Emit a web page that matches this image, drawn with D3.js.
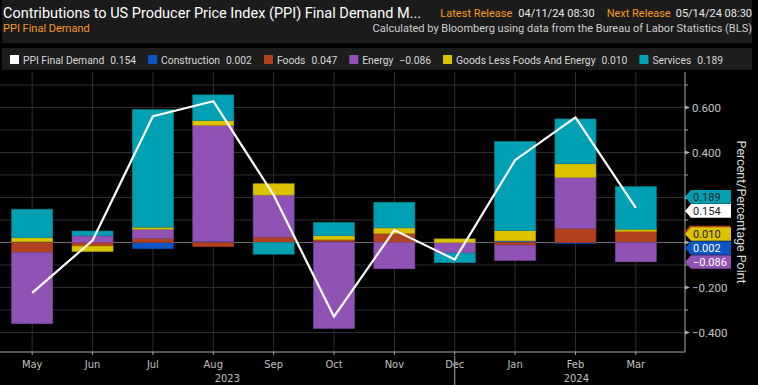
<!DOCTYPE html>
<html>
<head>
<meta charset="utf-8">
<script src="https://cdn.jsdelivr.net/npm/d3@7"></script>
<style>
  body { margin: 0; background: #000; }
  svg { display: block; font-family: Roboto, "Liberation Sans", sans-serif; }
</style>
</head>
<body>
<div id="chart"></div>
<script>
var width = 758, height = 385;

// values (contributions, pct pts)
var months = ["May", "Jun", "Jul", "Aug", "Sep", "Oct", "Nov", "Dec", "Jan", "Feb", "Mar"];
var ppiFinal     = [-0.224, 0.009, 0.561, 0.628, 0.211, -0.330, 0.055, -0.076, 0.366, 0.556, 0.154];
var construction = [0.003, 0.000, -0.028, 0.004, 0.000, 0.003, 0.000, 0.000, 0.007, -0.004, 0.002];
var foods        = [-0.044, -0.016, 0.018, -0.019, 0.024, 0.009, 0.040, 0.000, -0.012, 0.062, 0.047];
var energy       = [-0.317, 0.030, 0.041, 0.517, 0.187, -0.382, -0.117, -0.047, -0.068, 0.227, -0.086];
var goodsLess    = [0.018, -0.024, 0.009, 0.021, 0.050, 0.018, 0.025, 0.016, 0.046, 0.061, 0.010];
var services     = [0.127, 0.021, 0.523, 0.114, -0.052, 0.059, 0.114, -0.043, 0.396, 0.199, 0.189];
var years = [{label: "2023", from: "May", to: "Dec"}, {label: "2024", from: "Dec", to: null}];
var yTicks = [-0.4, -0.2, 0, 0.2, 0.4, 0.6];
var yMinor = [-0.3, -0.1, 0.1, 0.3, 0.5, 0.7];

var keys = ["construction", "foods", "energy", "goods", "services"];
var names = {ppi: "PPI Final Demand", construction: "Construction", foods: "Foods",
  energy: "Energy", goods: "Goods Less Foods And Energy", services: "Services"};
var colors = {ppi: "#ffffff", construction: "#0b55c6", foods: "#b3401f",
  energy: "#9152b6", goods: "#dcc300", services: "#00a0b4"};
var seriesVals = {ppi: ppiFinal, construction: construction, foods: foods,
  energy: energy, goods: goodsLess, services: services};

var rows = months.map(function (m, i) {
  var r = {month: m};
  keys.forEach(function (k) { r[k] = seriesVals[k][i]; });
  return r;
});

var svg = d3.select("#chart").append("svg")
  .attr("width", width)
  .attr("height", height);

svg.append("rect").attr("width", width).attr("height", height).attr("fill", "#000");

// header
svg.append("rect").attr("x", 2).attr("y", 0).attr("width", 750).attr("height", 43).attr("fill", "#1b1b1b");
svg.append("rect").attr("x", 2).attr("y", 48).attr("width", 750).attr("height", 22).attr("fill", "#1d1d1d");

svg.append("text").attr("x", 3).attr("y", 18)
  .attr("fill", "#fff").style("font-size", "14.5px")
  .text("Contributions to US Producer Price Index (PPI) Final Demand M...");

// release info, laid out right to left
var hx = 752;
[["05/14/24 08:30", "#e8e8e8", 5], ["Next Release", "#f39a1e", 12], ["04/11/24 08:30", "#e8e8e8", 6], ["Latest Release", "#f39a1e", 0]]
  .forEach(function (p) {
    var t = svg.append("text").attr("x", hx).attr("y", 17).attr("text-anchor", "end")
      .attr("fill", p[1]).style("font-size", "11px").text(p[0]);
    hx -= t.node().getComputedTextLength() + p[2];
  });

svg.append("text").attr("x", 3).attr("y", 32)
  .attr("fill", "#f39a1e").style("font-size", "11px").text("PPI Final Demand");
svg.append("text").attr("x", 752).attr("y", 32).attr("text-anchor", "end")
  .attr("fill", "#cfcfcf").style("font-size", "11px")
  .text("Calculated by Bloomberg using data from the Bureau of Labor Statistics (BLS)");

// legend
var lx = 10;
["ppi"].concat(keys).forEach(function (k) {
  var last = seriesVals[k][seriesVals[k].length - 1];
  svg.append("rect").attr("x", lx).attr("y", 55).attr("width", 9).attr("height", 9).attr("fill", colors[k]);
  var t = svg.append("text").attr("x", lx + 13).attr("y", 63.5)
    .attr("fill", "#d8d8d8").style("font-size", "10.3px").text(names[k]);
  var vx = lx + 13 + t.node().getComputedTextLength() + 6;
  var v = svg.append("text").attr("x", vx).attr("y", 63.5)
    .attr("fill", "#d8d8d8").style("font-size", "10.3px").text(d3.format(".3f")(last));
  lx = vx + v.node().getComputedTextLength() + 12;
});

// scales
var x = d3.scaleBand().domain(months).range([2, 666]).paddingInner(0.32).paddingOuter(0.16);
var cx = function (m) { return x(m) + x.bandwidth() / 2; };
var y = d3.scaleLinear().domain([-0.4867, 0.7533]).range([352, 73]);
var plotRight = 685, plotTop = 72, plotBottom = 352;

// grid
svg.append("g").selectAll("line").data(yTicks.concat(yMinor)).enter().append("line")
  .attr("x1", 0).attr("x2", plotRight)
  .attr("y1", function (d) { return y(d); }).attr("y2", function (d) { return y(d); })
  .attr("stroke", "#2f2f2f")
  .attr("stroke-width", 1);
svg.append("g").selectAll("line").data(months).enter().append("line")
  .attr("x1", cx).attr("x2", cx)
  .attr("y1", plotTop).attr("y2", plotBottom)
  .attr("stroke", "#2f2f2f");
svg.append("line").attr("x1", 0).attr("x2", plotRight).attr("y1", y(0)).attr("y2", y(0))
  .attr("stroke", "#707070");

// stacked bars
var stacked = d3.stack().keys(keys).offset(d3.stackOffsetDiverging)(rows);
svg.append("g").selectAll("g").data(stacked).enter().append("g")
  .attr("fill", function (s) { return colors[s.key]; })
  .attr("stroke", function (s) { return d3.color(colors[s.key]).darker(0.5); })
  .attr("stroke-width", 0.6)
  .selectAll("rect").data(function (s) { return s; }).enter().append("rect")
  .attr("x", function (d) { return x(d.data.month); })
  .attr("width", x.bandwidth())
  .attr("y", function (d) { return y(d[1]); })
  .attr("height", function (d) { return Math.max(0, y(d[0]) - y(d[1])); });

// ppi line
var line = d3.line()
  .x(function (d, i) { return cx(months[i]); })
  .y(function (d) { return y(d); });
svg.append("path").datum(ppiFinal)
  .attr("d", line).attr("fill", "none")
  .attr("stroke", "#fff").attr("stroke-width", 2.2).attr("stroke-linejoin", "round");

// bottom axis
svg.append("line").attr("x1", 0).attr("x2", plotRight).attr("y1", plotBottom).attr("y2", plotBottom)
  .attr("stroke", "#a8a8a8");
svg.append("g").selectAll("line").data(months).enter().append("line")
  .attr("x1", cx).attr("x2", cx).attr("y1", plotBottom).attr("y2", plotBottom + 3)
  .attr("stroke", "#a8a8a8");
svg.append("g").selectAll("text").data(months).enter().append("text")
  .attr("x", cx).attr("y", 368).attr("text-anchor", "middle")
  .attr("fill", "#c0c0c0").style("font-family", "'Liberation Sans Narrow', 'DejaVu Sans Condensed', sans-serif")
  .style("font-size", "11px").text(function (d) { return d; });
svg.append("line").attr("x1", cx("Dec")).attr("x2", cx("Dec")).attr("y1", 356).attr("y2", height)
  .attr("stroke", "#a8a8a8");
years.forEach(function (yr) {
  var a = yr.label == "2023" ? 0 : cx(yr.from);
  var b = yr.to ? cx(yr.to) : plotRight + 13;
  svg.append("text").attr("x", (a + b) / 2).attr("y", 382).attr("text-anchor", "middle")
    .attr("fill", "#c0c0c0").style("font-family", "'Liberation Sans Narrow', 'DejaVu Sans Condensed', sans-serif")
    .style("font-size", "11px").text(yr.label);
});

// right axis
svg.append("line").attr("x1", plotRight).attr("x2", plotRight).attr("y1", plotTop).attr("y2", plotBottom)
  .attr("stroke", "#a8a8a8");
svg.append("g").selectAll("line").data(yMinor).enter().append("line")
  .attr("x1", plotRight).attr("x2", plotRight + 3)
  .attr("y1", function (d) { return y(d); }).attr("y2", function (d) { return y(d); })
  .attr("stroke", "#a8a8a8");
var yt = svg.append("g").selectAll("g").data(yTicks).enter().append("g")
  .attr("transform", function (d) { return "translate(" + plotRight + "," + y(d) + ")"; });
yt.append("path").attr("d", "M0,-2L5,0L0,2Z").attr("fill", "#b0b0b0");
// the zero label sits under the value tags, so leave it out
yt.filter(function (d) { return d !== 0; })
  .append("text").attr("x", 7).attr("dy", "0.35em")
  .attr("fill", "#c4c4c4").style("font-size", "11.5px")
  .text(function (d) { return d3.format(".3f")(d); });

svg.append("text")
  .attr("transform", "translate(737," + y(0.135) + ") rotate(90)")
  .attr("text-anchor", "middle")
  .attr("fill", "#dcdcdc").style("font-size", "12.5px")
  .text("Percent/Percentage Point");

// last value tags on the right axis
var tags = ["services", "ppi", "goods", "construction", "energy"].map(function (k) {
  var v = seriesVals[k][seriesVals[k].length - 1];
  return {key: k, value: v, y: y(v)};
});
tags.sort(function (a, b) { return a.y - b.y; });
for (var it = 0; it < 30; it++) {
  for (var i = 1; i < tags.length; i++) {
    var gap = tags[i].y - tags[i - 1].y;
    if (gap < 14) {
      var push = (14 - gap) / 2;
      tags[i - 1].y -= push;
      tags[i].y += push;
    }
  }
}
var foodsTag = {key: "foods", value: foods[foods.length - 1]};
foodsTag.y = tags.filter(function (t) { return t.key == "goods"; })[0].y - 1.5;
var darkText = {services: 1, ppi: 1, goods: 1};
var tg = svg.append("g").selectAll("g").data([foodsTag].concat(tags)).enter().append("g")
  .attr("transform", function (d) { return "translate(" + (d.key == "foods" ? plotRight - 1 : plotRight) + "," + d.y + ")"; });
tg.append("path")
  .attr("d", "M0,0L6,-6.8L46,-6.8L46,6.8L6,6.8Z")
  .attr("fill", function (d) { return colors[d.key]; });
tg.filter(function (d) { return d.key != "foods"; })
  .append("text").attr("x", 8).attr("dy", "0.35em")
  .attr("fill", function (d) { return darkText[d.key] ? "#222" : "#fff"; })
  .style("font-size", "11px")
  .text(function (d) { return d3.format(".3f")(d.value); });
</script>
</body>
</html>
